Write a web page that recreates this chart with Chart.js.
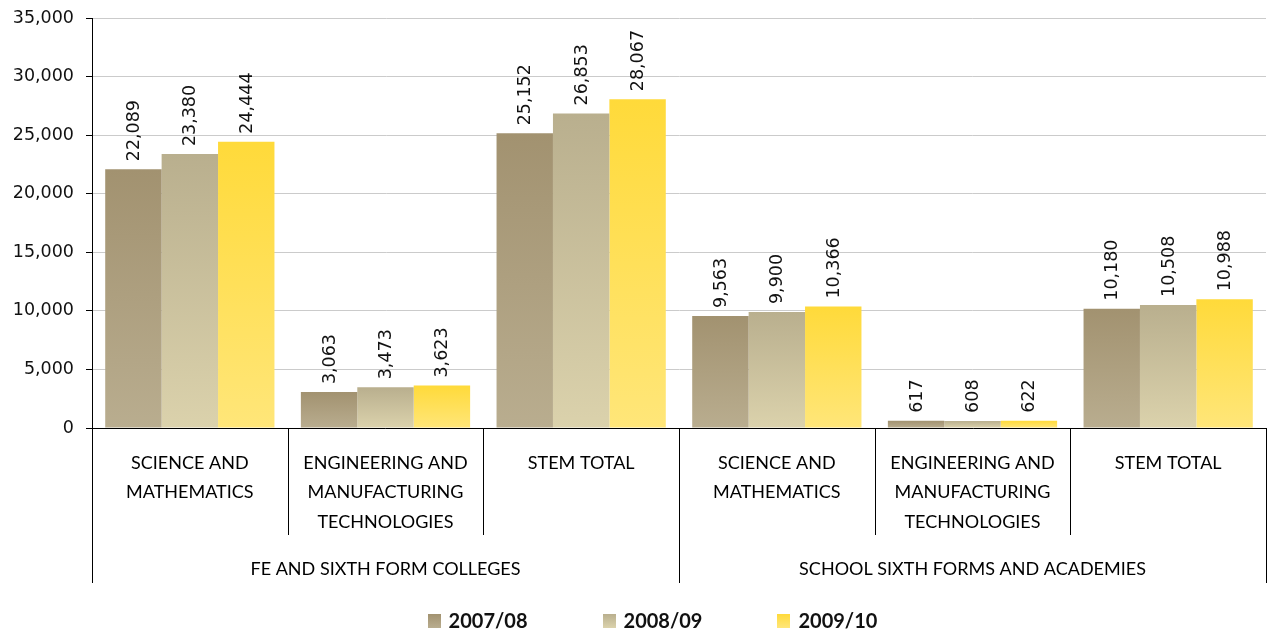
<!DOCTYPE html>
<html>
<head>
<meta charset="utf-8">
<title>STEM enrolments</title>
<script src="https://cdn.jsdelivr.net/npm/chart.js@4.4.0/dist/chart.umd.min.js"></script>
<style>
  html, body { margin: 0; padding: 0; background: #fff; }
  #wrap { width: 1271px; height: 633px; }
</style>
</head>
<body>
<div id="wrap"><canvas id="stemChart"></canvas></div>
<script>
// Subject areas, two provider groups of three
const categories = [
  ["SCIENCE AND", "MATHEMATICS"],
  ["ENGINEERING AND", "MANUFACTURING", "TECHNOLOGIES"],
  ["STEM TOTAL"],
  ["SCIENCE AND", "MATHEMATICS"],
  ["ENGINEERING AND", "MANUFACTURING", "TECHNOLOGIES"],
  ["STEM TOTAL"],
]
const groups = ["FE AND SIXTH FORM COLLEGES", "SCHOOL SIXTH FORMS AND ACADEMIES"]
const groupSize = 3

const years = ["2007/08", "2008/09", "2009/10"]
const values0708 = [22089, 3063, 25152, 9563, 617, 10180]
const values0809 = [23380, 3473, 26853, 9900, 608, 10508]
const values0910 = [24444, 3623, 28067, 10366, 622, 10988]

const yMax = 35000
const yStep = 5000

// top / bottom colour of each series' bar gradient
const shades = [
  ["#a29270", "#b9ad8f"],
  ["#b9af8e", "#dbd2ac"],
  ["#ffda3a", "#ffe679"],
]

function barFill(shade) {
  return (ctx) => {
    const chart = ctx.chart
    if (!chart.chartArea || ctx.type !== "data") return shade[0]
    const y = chart.scales.y
    const top = y.getPixelForValue(ctx.raw)
    const bottom = y.getPixelForValue(0)
    if (!isFinite(top) || top === bottom) return shade[0]
    const g = chart.ctx.createLinearGradient(0, top, 0, bottom)
    g.addColorStop(0, shade[0])
    g.addColorStop(1, shade[1])
    return g
  }
}

// rotated value above every bar
const valueLabels = {
  id: "valueLabels",
  afterDatasetsDraw(chart) {
    const ctx = chart.ctx
    ctx.save()
    ctx.font = "17.5px 'DejaVu Sans'"
    ctx.fillStyle = "#111"
    ctx.textAlign = "left"
    ctx.textBaseline = "middle"
    chart.data.datasets.forEach((ds, i) => {
      chart.getDatasetMeta(i).data.forEach((bar, j) => {
        ctx.save()
        ctx.translate(bar.x + 1, bar.y - 8)
        ctx.rotate(-Math.PI / 2)
        ctx.fillText(ds.data[j].toLocaleString("en-US"), 0, 0)
        ctx.restore()
      })
    })
    ctx.restore()
  },
}

// category dividers and the provider group row under the x axis
const groupAxis = {
  id: "groupAxis",
  afterDraw(chart) {
    const ctx = chart.ctx
    const x = chart.scales.x
    const { left, right, bottom } = chart.chartArea
    const n = categories.length
    const edge = (i) => {
      if (i === 0) return left
      if (i === n) return right
      return (x.getPixelForValue(i - 1) + x.getPixelForValue(i)) / 2
    }
    ctx.save()
    ctx.strokeStyle = "#000"
    ctx.lineWidth = 1
    for (let i = 0; i <= n; i++) {
      const px = Math.round(edge(i)) + 0.5
      const len = i % groupSize === 0 ? 155 : 107
      ctx.beginPath()
      ctx.moveTo(px, bottom)
      ctx.lineTo(px, bottom + len)
      ctx.stroke()
    }
    ctx.font = "18px Lato"
    ctx.fillStyle = "#000"
    ctx.textAlign = "center"
    ctx.textBaseline = "middle"
    groups.forEach((g, k) => {
      const mid = (edge(k * groupSize) + edge((k + 1) * groupSize)) / 2
      ctx.fillText(g, mid, bottom + 141)
    })
    ctx.restore()
  },
}

// legend row at the bottom
const legendRow = {
  id: "legendRow",
  afterDraw(chart) {
    const ctx = chart.ctx
    ctx.save()
    ctx.font = "bold 20px Lato"
    ctx.textBaseline = "middle"
    ctx.textAlign = "left"
    const box = 13
    const gapText = 8
    const gapItem = 75
    const labels = chart.data.datasets.map((d) => d.label)
    const widths = labels.map((t) => box + gapText + ctx.measureText(t).width)
    const total = widths.reduce((a, b) => a + b, 0) + gapItem * (labels.length - 1)
    let cx = (chart.width + 34) / 2 - total / 2
    const cy = chart.height - 12
    labels.forEach((t, i) => {
      const g = ctx.createLinearGradient(0, cy - 7, 0, cy + 7)
      g.addColorStop(0, shades[i][0])
      g.addColorStop(1, shades[i][1])
      ctx.fillStyle = g
      ctx.fillRect(Math.round(cx), Math.round(cy - 7), box, 14)
      ctx.fillStyle = "#111"
      ctx.fillText(t, cx + box + gapText, cy + 1)
      cx += widths[i] + gapItem
    })
    ctx.restore()
  },
}

const seriesValues = [values0708, values0809, values0910]

new Chart(document.getElementById("stemChart"), {
  type: "bar",
  data: {
    labels: categories,
    datasets: years.map((year, i) => ({
      label: year,
      data: seriesValues[i],
      backgroundColor: barFill(shades[i]),
      borderWidth: 0,
      categoryPercentage: 0.865,
      barPercentage: 1,
    })),
  },
  options: {
    responsive: true,
    maintainAspectRatio: false,
    animation: false,
    layout: { padding: { top: 18, right: 5, bottom: 55, left: 0 } },
    plugins: {
      legend: { display: false },
      tooltip: { enabled: false },
    },
    scales: {
      x: {
        grid: { display: false },
        border: { display: true, color: "#000", width: 1 },
        ticks: {
          autoSkip: false,
          maxRotation: 0,
          padding: 12,
          color: "#000",
          font: { family: "Lato", size: 18, lineHeight: 1.65 },
        },
        afterFit(scale) {
          scale.height = 150
        },
      },
      y: {
        min: 0,
        max: yMax,
        grid: { color: "#cbcbcb", tickColor: "#000", tickLength: 6 },
        border: { display: true, color: "#000", width: 1 },
        ticks: {
          stepSize: yStep,
          padding: 12,
          color: "#111",
          font: { family: "DejaVu Sans", size: 17.5 },
          callback: (v) => v.toLocaleString("en-US"),
        },
        afterFit(scale) {
          scale.width = 92
          scale.paddingTop = 0
          scale.paddingBottom = 0
        },
      },
    },
  },
  plugins: [valueLabels, groupAxis, legendRow],
})
</script>
</body>
</html>
